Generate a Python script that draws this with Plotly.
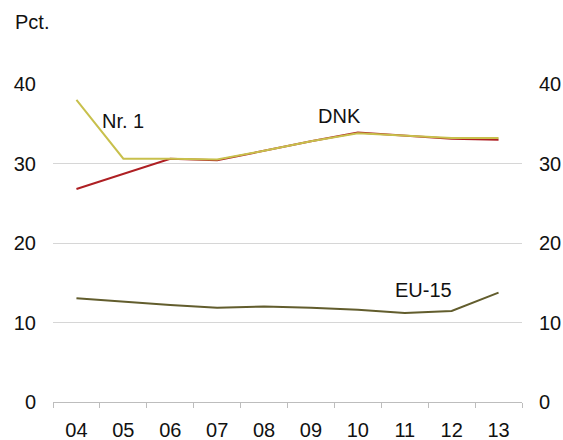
import plotly.graph_objects as go

# Data
years = ["04", "05", "06", "07", "08", "09", "10", "11", "12", "13"]
nr1 = [38.0, 30.6, 30.6, 30.5, 31.6, 32.8, 33.8, 33.5, 33.2, 33.2]
dnk = [26.8, 28.7, 30.6, 30.4, 31.6, 32.8, 33.9, 33.5, 33.1, 33.0]
eu15 = [13.05, 12.6, 12.2, 11.85, 12.0, 11.85, 11.6, 11.2, 11.45, 13.75]
y_ticks = [0, 10, 20, 30, 40]

COLORS = {
    "nr1": "#C8C04C",
    "dnk": "#AE1F23",
    "eu15": "#625D2D",
    "grid": "#D6D6D6",
    "axis": "#BDBDBD",
    "text": "#111111",
}
FONT = "Liberation Sans, Arial, sans-serif"

fig = go.Figure()
fig.add_trace(go.Scatter(x=years, y=dnk, mode="lines", name="DNK",
                         line=dict(color=COLORS["dnk"], width=2)))
fig.add_trace(go.Scatter(x=years, y=nr1, mode="lines", name="Nr. 1",
                         line=dict(color=COLORS["nr1"], width=2)))
fig.add_trace(go.Scatter(x=years, y=eu15, mode="lines", name="EU-15",
                         line=dict(color=COLORS["eu15"], width=2)))
# invisible trace to carry the right-hand axis
fig.add_trace(go.Scatter(x=years, y=eu15, yaxis="y2", mode="lines",
                         line=dict(width=0), hoverinfo="skip", showlegend=False,
                         opacity=0))

# series labels
for text, x, y in [("Nr. 1", 1.0, 35.35), ("DNK", 5.6, 36.0), ("EU-15", 7.41, 14.1)]:
    fig.add_annotation(text=text, x=x, y=y, xref="x", yref="y", showarrow=False,
                       font=dict(size=20, color=COLORS["text"], family=FONT))

fig.add_annotation(text="Pct.", x=-0.086, y=1.195, xref="paper", yref="paper",
                   xanchor="left", yanchor="middle", showarrow=False,
                   font=dict(size=20, color=COLORS["text"], family=FONT))

fig.update_layout(
    width=563, height=440,
    margin=dict(l=53, r=41, t=84, b=38),
    paper_bgcolor="white", plot_bgcolor="white",
    showlegend=False,
    font=dict(family=FONT, size=20, color=COLORS["text"]),
    xaxis=dict(
        type="category", range=[-0.5, 9.5], tickson="boundaries",
        ticks="outside", ticklen=5, automargin=False,
        tickcolor=COLORS["axis"], showline=True, linecolor=COLORS["axis"],
        linewidth=1, showgrid=False, ticklabelstandoff=10,
        tickfont=dict(size=20),
    ),
    yaxis=dict(
        range=[0, 40], tickvals=y_ticks, showgrid=True, gridcolor=COLORS["grid"],
        gridwidth=1, zeroline=False, ticks="", ticklabelstandoff=16,
        automargin=False, tickfont=dict(size=20),
    ),
    yaxis2=dict(
        range=[0, 40], tickvals=y_ticks, overlaying="y", side="right",
        showgrid=False, zeroline=False, ticks="", ticklabelstandoff=16,
        automargin=False, tickfont=dict(size=20),
    ),
)

# drop the default page margin so the figure fills the window exactly
fig.write_html(
    "out.html",
    config={"displayModeBar": False},
    post_script="document.body.style.margin='0';document.body.style.overflow='hidden';",
)
